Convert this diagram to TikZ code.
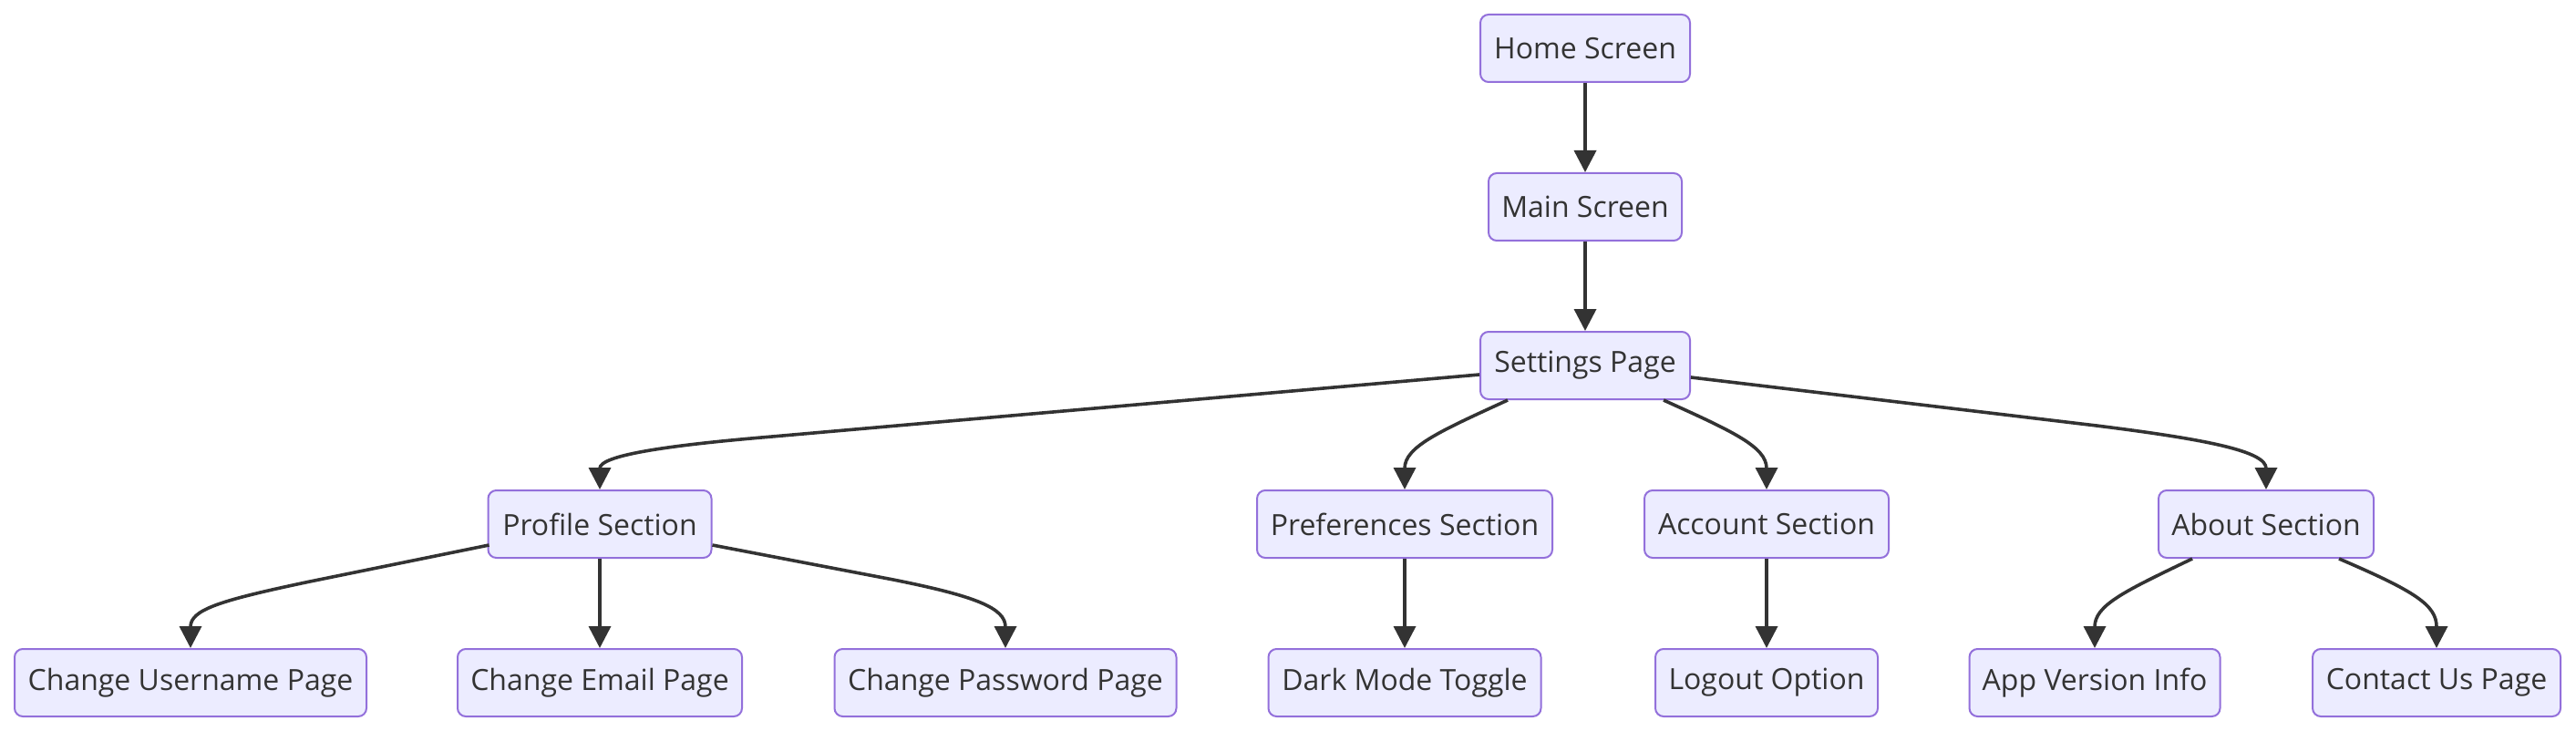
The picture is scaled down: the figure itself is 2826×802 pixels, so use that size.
\documentclass[tikz,border=0pt]{standalone}
\usepackage{fontspec}
\setmainfont{Open Sans}
\usetikzlibrary{arrows.meta,calc}
\definecolor{nodefill}{HTML}{ECECFF}
\definecolor{nodeborder}{HTML}{9370DB}
\definecolor{ink}{HTML}{333333}
\begin{document}
\begin{tikzpicture}[x=1pt,y=-1pt,
  box/.style={draw=nodeborder, fill=nodefill, line width=2pt, rounded corners=9pt,
    minimum height=74pt, inner sep=0pt, text=ink, font=\fontsize{32}{38}\selectfont},
  link/.style={draw=ink, line width=3.6pt, -{Triangle[length=24pt,width=24pt]}}]
\fill[white] (0,0) rectangle (2826,802);
\useasboundingbox (0,0) rectangle (2826,802);

\node[box, minimum width=230pt] (home) at (1739,53) {Home Screen};
\node[box, minimum width=212pt] (main) at (1739,227) {Main Screen};
\node[box, minimum width=230pt] (settings) at (1739,401) {Settings Page};

\node[box, minimum width=245pt] (profile) at (658,575) {Profile Section};
\node[box, minimum width=324pt] (prefs) at (1541,575) {Preferences Section};
\node[box, minimum width=268pt] (account) at (1938,575) {Account Section};
\node[box, minimum width=236pt] (about) at (2486,575) {About Section};

\node[box, minimum width=386pt] (user) at (209,749) {Change Username Page};
\node[box, minimum width=312pt] (email) at (658,749) {Change Email Page};
\node[box, minimum width=375pt] (pass) at (1103,749) {Change Password Page};
\node[box, minimum width=299pt] (dark) at (1541,749) {Dark Mode Toggle};
\node[box, minimum width=244pt] (logout) at (1938,749) {Logout Option};
\node[box, minimum width=275pt] (app) at (2298,749) {App Version Info};
\node[box, minimum width=272pt] (contact) at (2673,749) {Contact Us Page};

\draw[link] (home.south) -- (main.north);
\draw[link] (main.south) -- (settings.north);

\draw[link] ($(settings.west)+(0,10)$) -- ($(profile.north)+(189,-58)$)
  .. controls ($(profile.north)+(69,-48)$) and ($(profile.north)+(0,-37)$) .. (profile.north);
\draw[link] ($(settings.south west)+(31,0)$)
  .. controls ($(prefs.north)+(39,-64)$) and ($(prefs.north)+(0,-47)$) .. (prefs.north);
\draw[link] ($(settings.south east)+(-30,0)$)
  .. controls ($(account.north)+(-38,-64)$) and ($(account.north)+(0,-47)$) .. (account.north);
\draw[link] ($(settings.east)+(0,13)$) -- ($(about.north)+(-186,-70)$)
  .. controls ($(about.north)+(-66,-55)$) and ($(about.north)+(0,-42)$) .. (about.north);

\draw[link] ($(profile.west)+(2,23)$) -- ($(user.north)+(131,-73)$)
  .. controls ($(user.north)+(31,-52)$) and ($(user.north)+(0,-42)$) .. (user.north);
\draw[link] (profile.south) -- (email.north);
\draw[link] ($(profile.east)+(0,23)$) -- ($(pass.north)+(-123,-75)$)
  .. controls ($(pass.north)+(-33,-57)$) and ($(pass.north)+(0,-44)$) .. (pass.north);

\draw[link] (prefs.south) -- (dark.north);
\draw[link] (account.south) -- (logout.north);

\draw[link] ($(about.south west)+(38,0)$)
  .. controls ($(app.north)+(32,-62)$) and ($(app.north)+(0,-47)$) .. (app.north);
\draw[link] ($(about.south east)+(-39,0)$)
  .. controls ($(contact.north)+(-23,-62)$) and ($(contact.north)+(0,-47)$) .. (contact.north);
\end{tikzpicture}
\end{document}
